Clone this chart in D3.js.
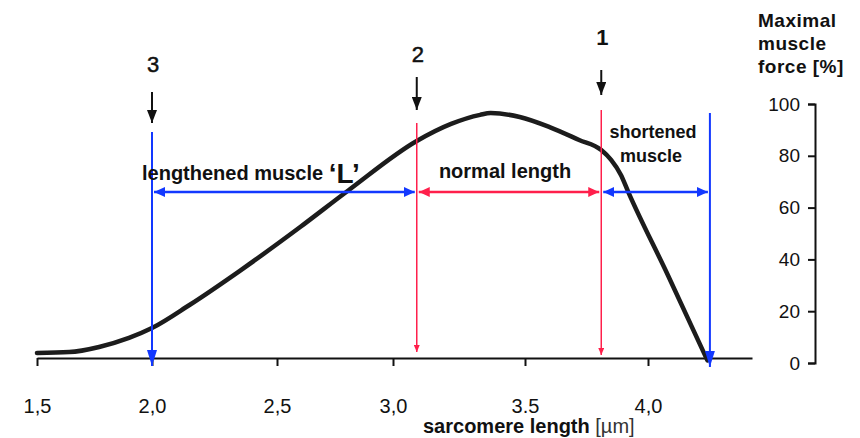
<!DOCTYPE html>
<html>
<head>
<meta charset="utf-8">
<script src="https://cdn.jsdelivr.net/npm/d3@7"></script>
<style>
  body { margin: 0; background: #fff; }
  svg text { font-family: "Liberation Sans", Arial, Helvetica, sans-serif; }
</style>
</head>
<body>
<div id="chart"></div>
<script>
// force-length curve (sarcomere length in um, force in %)
var lengthUm = [1.50, 1.64, 1.77, 1.90, 2.00, 2.15, 2.35, 2.60, 2.81, 3.09, 3.22, 3.33, 3.37, 3.48, 3.60, 3.72, 3.81, 3.85, 3.89, 3.92, 4.08, 4.24];
var forcePct = [3.9, 4.2, 6.2, 9.7, 13.5, 22.4, 35.5, 52.5, 66.8, 85.7, 92.3, 95.8, 96.5, 95.0, 91.1, 86.1, 82.2, 78.4, 72.6, 66.0, 34.0, 1.0];

// x ticks (the original hand-drawn axis is not evenly spaced)
var xTickValues = [1.5, 2.0, 2.5, 3.0, 3.5, 4.0];
var xTickLabels = ["1,5", "2,0", "2,5", "3,0", "3.5", "4,0"];
var yTickValues = [0, 20, 40, 60, 80, 100];

// region borders in um: 3 = lengthened, 2 / 1 = normal length, end = zero force
var markerUm = [2.0, 3.09, 3.81, 4.25];
var markerNames = ["3", "2", "1"];
var regionLabels = ["lengthened muscle", "normal length", "shortened", "muscle"];

var blue = "#1238ff";
var red = "#ff1f4b";

var svg = d3.select("#chart").append("svg")
    .attr("width", 860)
    .attr("height", 438);

var defs = svg.append("defs");
function addMarker(id, color, len, half){
    defs.append("marker")
        .attr("id", id)
        .attr("viewBox", "0 0 " + len + " " + (half * 2))
        .attr("refX", len)
        .attr("refY", half)
        .attr("markerWidth", len)
        .attr("markerHeight", half * 2)
        .attr("markerUnits", "userSpaceOnUse")
        .attr("orient", "auto-start-reverse")
        .append("path")
            .attr("d", "M0,0L" + len + "," + half + "L0," + (half * 2) + "Z")
            .attr("fill", color);
}
addMarker("blueBig", blue, 16, 5);
addMarker("blueH", blue, 11, 5);
addMarker("redSmall", red, 7, 3);
addMarker("redH", red, 11, 5);
addMarker("black", "#111", 13, 5);

// scales
var x = d3.scaleLinear()
    .domain([1.5, 2.0, 2.5, 3.0, 3.5, 4.0, 4.42])
    .range([37, 152, 277, 393, 525, 648, 752]);

var y = d3.scaleLinear()
    .domain([0, 100])
    .range([363, 104]);

// x axis
var xAxis = d3.axisBottom(x)
    .tickValues(xTickValues)
    .tickFormat(function(d, i){ return xTickLabels[i]; })
    .tickSize(8)
    .tickSizeOuter(0)
    .tickPadding(33);

var gx = svg.append("g")
    .attr("transform", "translate(0,358)")
    .call(xAxis);
gx.select(".domain").attr("stroke", "#111").attr("stroke-width", 2);
gx.selectAll(".tick line").attr("stroke", "#111").attr("stroke-width", 2);
gx.selectAll(".tick text")
    .attr("font-size", 20)
    .attr("fill", "#111")
    .attr("font-family", "Liberation Sans, Arial, sans-serif");

// y axis on the right side
var yAxis = d3.axisLeft(y)
    .tickValues(yTickValues)
    .tickSize(7)
    .tickPadding(8);

var gy = svg.append("g")
    .attr("transform", "translate(815,0)")
    .call(yAxis);
gy.select(".domain").attr("stroke", "#111").attr("stroke-width", 2);
gy.selectAll(".tick line").attr("stroke", "#111").attr("stroke-width", 2);
gy.selectAll(".tick text")
    .attr("font-size", 19)
    .attr("fill", "#111")
    .attr("font-family", "Liberation Sans, Arial, sans-serif");

// axis titles
var yTitle = svg.append("text")
    .attr("x", 758)
    .attr("font-size", 19)
    .attr("letter-spacing", 0.5)
    .attr("font-weight", "bold")
    .attr("fill", "#111");
["Maximal", "muscle", "force [%]"].forEach(function(t, i){
    yTitle.append("tspan").attr("x", 758).attr("y", 27 + i * 23).text(t);
});

var xTitle = svg.append("text")
    .attr("x", 423)
    .attr("y", 433)
    .attr("font-size", 20)
    .attr("fill", "#111");
xTitle.append("tspan").attr("font-weight", "bold").text("sarcomere length ");
xTitle.append("tspan").attr("fill", "#333").text("[µm]");

// the curve
var points = lengthUm.map(function(d, i){ return [d, forcePct[i]]; });
var line = d3.line()
    .x(function(d){ return x(d[0]); })
    .y(function(d){ return y(d[1]); })
    .curve(d3.curveMonotoneX);

svg.append("path")
    .datum(points)
    .attr("d", line)
    .attr("fill", "none")
    .attr("stroke", "#1c1c1c")
    .attr("stroke-width", 4.5)
    .attr("stroke-linecap", "round")
    .attr("stroke-linejoin", "round");

// vertical border lines
var vTop = [132, 123, 110, 113];
var vBottom = [366, 352, 355, 367];
var vColor = [blue, red, red, blue];
var vMarker = ["blueBig", "redSmall", "redSmall", "blueBig"];
var vWidth = [2, 1.5, 1.5, 2];
markerUm.forEach(function(m, i){
    svg.append("line")
        .attr("x1", x(m)).attr("x2", x(m))
        .attr("y1", vTop[i]).attr("y2", vBottom[i])
        .attr("stroke", vColor[i])
        .attr("stroke-width", vWidth[i])
        .attr("marker-end", "url(#" + vMarker[i] + ")");
});

// horizontal double arrows
var arrowY = 192;
var hColor = [blue, red, blue];
var hMarker = ["blueH", "redH", "blueH"];
for (var i = 0; i < 3; i++){
    svg.append("line")
        .attr("x1", x(markerUm[i]) + 2)
        .attr("x2", x(markerUm[i + 1]) - 2)
        .attr("y1", arrowY).attr("y2", arrowY)
        .attr("stroke", hColor[i])
        .attr("stroke-width", 2.5)
        .attr("marker-start", "url(#" + hMarker[i] + ")")
        .attr("marker-end", "url(#" + hMarker[i] + ")");
}

// numbered black arrows
var numBase = [72, 62, 45];
var arrTop = [92, 77, 70];
var arrTip = [123, 110, 95];
markerNames.forEach(function(n, i){
    var cx = x(markerUm[i]);
    svg.append("text")
        .attr("x", cx + 1)
        .attr("y", numBase[i])
        .attr("text-anchor", "middle")
        .attr("font-size", 22)
        .attr("font-weight", i == 2 ? "bold" : "normal")
        .attr("stroke", i == 2 ? "none" : "#111")
        .attr("stroke-width", 0.5)
        .attr("fill", "#111")
        .text(n);
    svg.append("line")
        .attr("x1", cx).attr("x2", cx)
        .attr("y1", arrTop[i]).attr("y2", arrTip[i])
        .attr("stroke", "#111")
        .attr("stroke-width", 2)
        .attr("marker-end", "url(#black)");
});

// region labels
var lab = svg.append("text")
    .attr("x", 142)
    .attr("y", 180)
    .attr("font-size", 20)
    .attr("font-weight", "bold")
    .attr("fill", "#111");
lab.append("tspan").text(regionLabels[0] + " ");
lab.append("tspan").attr("font-size", 28).attr("dy", 3).text("‘L’");

svg.append("text")
    .attr("x", 505)
    .attr("y", 178)
    .attr("text-anchor", "middle")
    .attr("font-size", 20)
    .attr("font-weight", "bold")
    .attr("fill", "#111")
    .text(regionLabels[1]);

svg.append("text")
    .attr("x", 653)
    .attr("y", 138)
    .attr("text-anchor", "middle")
    .attr("font-size", 18)
    .attr("font-weight", "bold")
    .attr("fill", "#111")
    .text(regionLabels[2]);
svg.append("text")
    .attr("x", 651)
    .attr("y", 162)
    .attr("text-anchor", "middle")
    .attr("font-size", 18)
    .attr("font-weight", "bold")
    .attr("fill", "#111")
    .text(regionLabels[3]);
</script>
</body>
</html>
